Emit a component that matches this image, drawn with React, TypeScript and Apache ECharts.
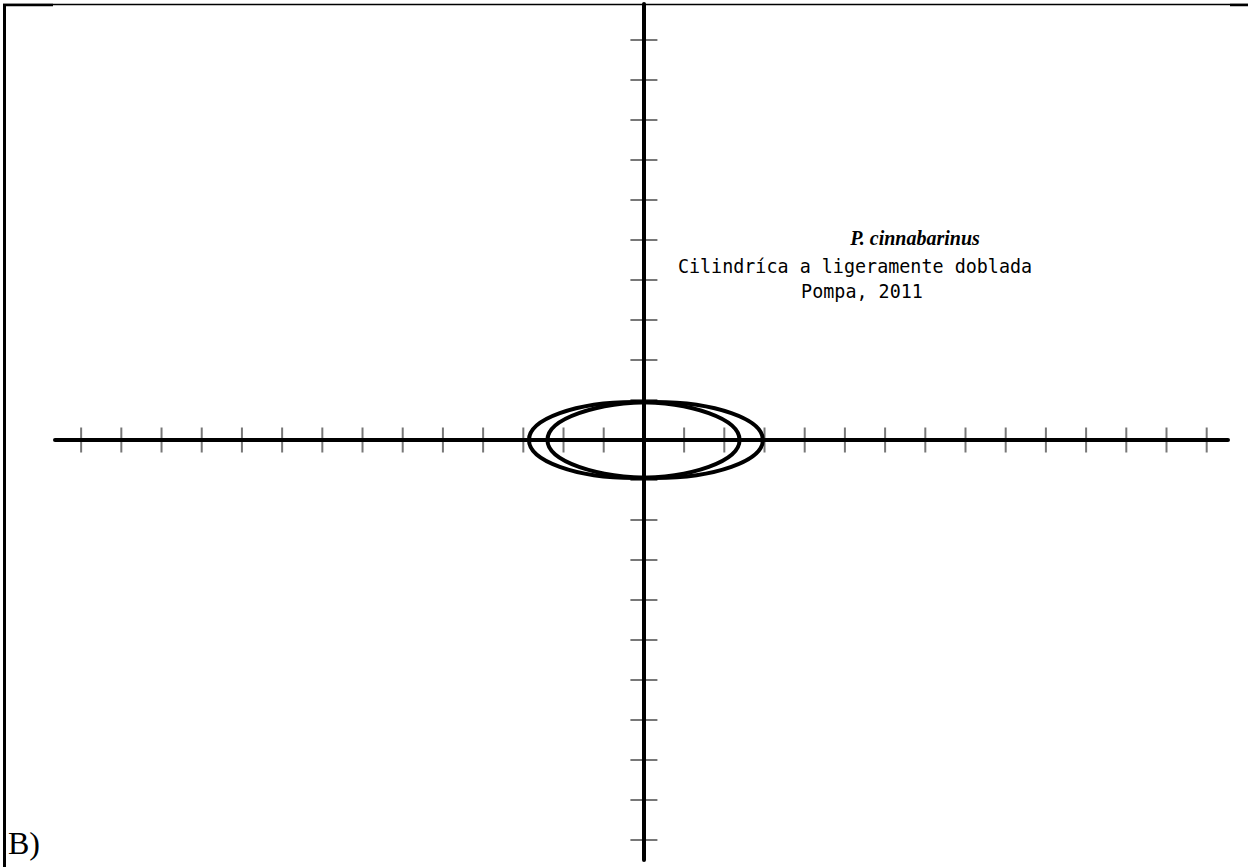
import React, { useEffect, useRef } from "react";
import * as echarts from "echarts";

// Axis extents (units = tick spacing)
const xRange = [-14.65, 14.53];
const yRange = [-10.5, 10.9];

// Tick positions along each axis
const xTicks = [-14, -13, -12, -11, -10, -9, -8, -7, -6, -5, -4, -3, -2, -1, 1, 2, 3, 4, 5, 6, 7, 8, 9, 10, 11, 12, 13, 14];
const yTicks = [-10, -9, -8, -7, -6, -5, -4, -3, -2, -1, 1, 2, 3, 4, 5, 6, 7, 8, 9, 10];

// Ellipses: [centerX, centerY, semiAxisX, semiAxisY]
const ellipseNames = ["Ellipse A", "Ellipse B"];
const ellipseParams = [
  [-0.24, 0.0, 2.62, 0.95],
  [0.28, 0.0, 2.68, 0.95],
];

const titleSpecies = "P. cinnabarinus";
const titleShape = "Cilindríca a ligeramente doblada";
const titleSource = "Pompa, 2011";
const panelLabel = "B)";

export default function App() {
  const ref = useRef<HTMLDivElement>(null);
  useEffect(() => {
    if (!ref.current) return;
    const chart = echarts.init(ref.current, null, { renderer: "svg" });
    const axisCommon = {
      type: "value" as const,
      z: 10,
      axisLine: { show: true, onZero: true, lineStyle: { color: "#000", width: 4 } },
      axisTick: { show: false },
      axisLabel: { show: false },
      splitLine: { show: false },
    };
    chart.setOption({
      animation: false,
      backgroundColor: "#fff",
      grid: { left: 55, top: 4, width: 1173, height: 856 },
      xAxis: { ...axisCommon, min: xRange[0], max: xRange[1] },
      yAxis: { ...axisCommon, min: yRange[0], max: yRange[1] },
      series: [
        {
          type: "scatter",
          name: "xTicks",
          data: xTicks.map((v) => [v, 0]),
          symbol: "rect",
          symbolSize: [2, 25],
          itemStyle: { color: "#555" },
          silent: true,
          z: 1,
        },
        {
          type: "scatter",
          name: "yTicks",
          data: yTicks.map((v) => [0, v]),
          symbol: "rect",
          symbolSize: [27, 2],
          itemStyle: { color: "#555" },
          silent: true,
          z: 1,
        },
        {
          type: "custom",
          name: "ellipses",
          data: ellipseParams.map((p, i) => ({ name: ellipseNames[i], value: p })),
          z: 12,
          clip: false,
          renderItem: (params: any, api: any) => {
            const c = api.coord([api.value(0), api.value(1)]);
            const s = api.size([api.value(2), api.value(3)]);
            return {
              type: "ellipse",
              shape: { cx: c[0], cy: c[1], rx: s[0], ry: s[1] },
              style: { fill: "none", stroke: "#000", lineWidth: 4 },
            };
          },
        },
      ],
      graphic: [
        { type: "line", shape: { x1: 3, y1: 4.5, x2: 1248, y2: 4.5 }, style: { stroke: "#000", lineWidth: 1.5 } },
        { type: "line", shape: { x1: 3, y1: 5, x2: 53, y2: 5 }, style: { stroke: "#000", lineWidth: 2.5 } },
        { type: "line", shape: { x1: 1230, y1: 5, x2: 1248, y2: 5 }, style: { stroke: "#000", lineWidth: 2.5 } },
        { type: "line", shape: { x1: 4.5, y1: 4, x2: 4.5, y2: 867 }, style: { stroke: "#000", lineWidth: 3 } },
        {
          type: "text",
          x: 915,
          y: 238,
          style: {
            text: titleSpecies,
            font: "italic bold 20px 'Liberation Serif', serif",
            fill: "#000",
            align: "center",
            verticalAlign: "middle",
          },
        },
        {
          type: "text",
          x: 855,
          y: 266,
          scaleX: 0.92,
          style: {
            text: titleShape,
            font: "20px 'DejaVu Sans Mono', monospace",
            fill: "#000",
            align: "center",
            verticalAlign: "middle",
          },
        },
        {
          type: "text",
          x: 862,
          y: 291,
          scaleX: 0.92,
          style: {
            text: titleSource,
            font: "20px 'DejaVu Sans Mono', monospace",
            fill: "#000",
            align: "center",
            verticalAlign: "middle",
          },
        },
        {
          type: "text",
          x: 8,
          y: 843,
          style: {
            text: panelLabel,
            font: "32px 'Liberation Serif', serif",
            fill: "#000",
            align: "left",
            verticalAlign: "middle",
          },
        },
      ],
    });
    return () => chart.dispose();
  }, []);
  return (
    <div
      ref={ref}
      style={{ position: "absolute", left: 0, top: 0, width: 1248, height: 867, background: "#fff" }}
    />
  );
}
